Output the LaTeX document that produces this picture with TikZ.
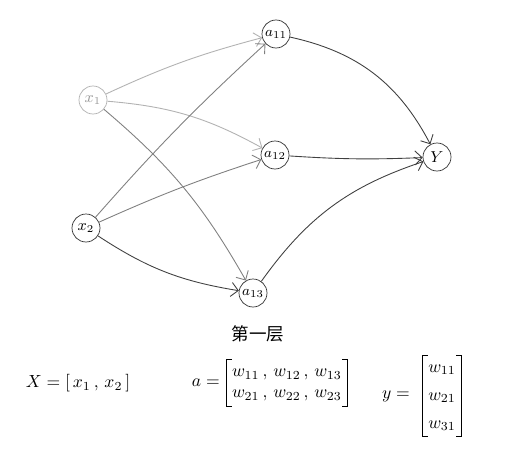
\documentclass[tikz,border=0pt]{standalone}
\usepackage{amsmath}
\usepackage{fontspec}
\newfontfamily\cjk{Noto Sans CJK SC}
\usetikzlibrary{arrows.meta}
\begin{document}
\begin{tikzpicture}[x=0.02cm,y=-0.02cm,
  neuron/.style={draw=black!80,circle,inner sep=0pt,minimum size=28*0.02cm,font=\small},
  lightneuron/.style={neuron,draw=black!30,text=black!40},
  conn/.style={draw=black!75,-{Straight Barb[length=4pt]},line width=0.5pt},
  lightconn/.style={conn,draw=black!30},
  midconn/.style={conn,draw=black!50},
  mat/.style={inner xsep=3pt,inner ysep=1pt},
  bracket/.style={draw=black,line width=0.5pt}]
\fill[white] (0,0) rectangle (517,463);
\useasboundingbox (0,0) rectangle (517,463);
\node[lightneuron] (x1) at (93,100) {$x_1$};
\node[neuron] (x2) at (86,228) {$x_2$};
\node[neuron,font=\footnotesize] (a11) at (276,34) {$a_{11}$};
\node[neuron,font=\footnotesize] (a12) at (275,155) {$a_{12}$};
\node[neuron,font=\footnotesize] (a13) at (253,293) {$a_{13}$};
\node[neuron] (y) at (437,157) {$Y$};
% edges from x1
\draw[lightconn] (x1) to[bend left=5] (a11);
\draw[lightconn] (x1) to[bend left=12] (a12);
\draw[midconn] (x1) to[bend left=10] (a13);
% edges from x2
\draw[midconn] (x2) to[bend left=3] (a11);
\draw[midconn] (x2) to[bend left=3] (a12);
\draw[conn] (x2) to[bend left=-12] (a13);
% to output
\draw[conn] (a11) to[bend left=25] (y);
\draw[conn] (a12) to[bend left=-3] (y);
\draw[conn] (a13) to[bend left=18] (y);
% texts
\node (layer) at (258,334) {\cjk 第一层};
\node (xeq) at (78,383) {$X = [\, x_1 \,,\, x_2 \,]$};
\node[anchor=east] (aeql) at (226,383) {$a =$};
\node[mat] (aeq) at (287,383) {$\begin{matrix} w_{11} \,,\, w_{12} \,,\, w_{13} \\ w_{21} \,,\, w_{22} \,,\, w_{23}\end{matrix}$};
\draw[bracket] ([xshift=3pt]aeq.north west) -- (aeq.north west) -- (aeq.south west) -- ([xshift=3pt]aeq.south west);
\draw[bracket] ([xshift=-3pt]aeq.north east) -- (aeq.north east) -- (aeq.south east) -- ([xshift=-3pt]aeq.south east);
\node[anchor=east] (yeql) at (416,396) {$y =$};
\node[mat] (yeq) at (442,396) {$\begin{matrix} w_{11} \\[4pt] w_{21} \\[4pt] w_{31}\end{matrix}$};
\draw[bracket] ([xshift=3pt]yeq.north west) -- (yeq.north west) -- (yeq.south west) -- ([xshift=3pt]yeq.south west);
\draw[bracket] ([xshift=-3pt]yeq.north east) -- (yeq.north east) -- (yeq.south east) -- ([xshift=-3pt]yeq.south east);
\end{tikzpicture}
\end{document}
